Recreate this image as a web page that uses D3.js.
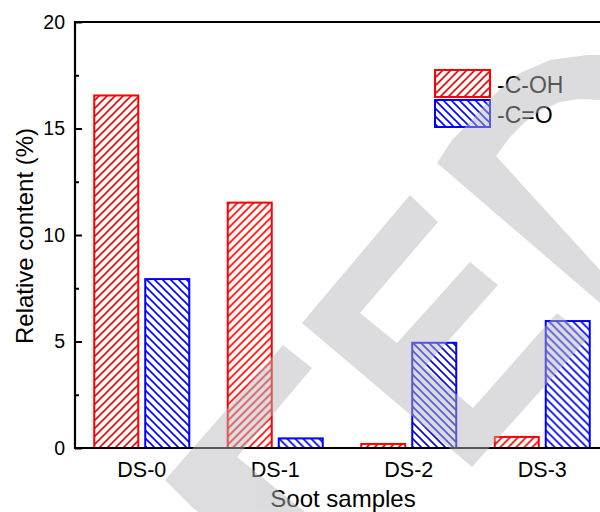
<!DOCTYPE html>
<html>
<head>
<meta charset="utf-8">
<script src="https://cdn.jsdelivr.net/npm/d3@7"></script>
<style>
  html, body { margin: 0; padding: 0; background: #ffffff; }
  svg { display: block; font-family: "Liberation Sans", Arial, sans-serif; }
</style>
</head>
<body>
<svg id="chart" width="600" height="512"></svg>
<script>
// ---- data ----
const categories = ["DS-0", "DS-1", "DS-2", "DS-3"];
const seriesNames = ["-C-OH", "-C=O"];
const cohValues = [16.55, 11.52, 0.19, 0.52];
const coValues = [7.93, 0.45, 4.94, 5.96];
const yTicks = [0, 5, 10, 15, 20];
const yMinorTicks = [2.5, 7.5, 12.5, 17.5];
const seriesColors = ["#ff0000", "#0000ff"];

(function () {
// ---- layout ----
const svg = d3.select("#chart");
const pLeft = 75, pTop = 22, pBottom = 448, pRight = 609;

const x = d3.scaleBand().domain(categories).range([pLeft, pRight]).padding(0);
const inner = d3.scaleBand().domain([0, 1])
  .range([x.bandwidth() / 2 - 47.5, x.bandwidth() / 2 + 47.5])
  .paddingInner(0.137).paddingOuter(0);
const y = d3.scaleLinear().domain([0, 20]).range([pBottom, pTop]);

// hatch patterns
const defs = svg.append("defs");
function hatch(id, color, forward) {
  const p = defs.append("pattern").attr("id", id)
    .attr("patternUnits", "userSpaceOnUse").attr("width", 8).attr("height", 8);
  p.append("rect").attr("width", 8).attr("height", 8).attr("fill", "#ffffff");
  const d = forward
    ? "M-2,2 L2,-2 M0,8 L8,0 M6,10 L10,6"
    : "M-2,6 L2,10 M0,0 L8,8 M6,-2 L10,2";
  p.append("path").attr("d", d).attr("stroke", color).attr("stroke-width", 1.6)
    .attr("fill", "none");
}
hatch("hatchRed", seriesColors[0], true);
hatch("hatchBlue", seriesColors[1], false);
const fills = ["url(#hatchRed)", "url(#hatchBlue)"];

// bars
const rows = categories.map((c, i) => ({ cat: c, vals: [cohValues[i], coValues[i]] }));
const groups = svg.append("g").selectAll("g").data(rows).join("g")
  .attr("transform", d => `translate(${x(d.cat)},0)`);
groups.selectAll("rect").data(d => d.vals.map((v, k) => ({ v, k }))).join("rect")
  .attr("x", d => inner(d.k))
  .attr("width", inner.bandwidth())
  .attr("y", d => y(d.v))
  .attr("height", d => y(0) - y(d.v))
  .attr("fill", d => fills[d.k])
  .attr("stroke", d => seriesColors[d.k])
  .attr("stroke-width", 2);

// axes
const yAxis = svg.append("g").attr("transform", `translate(${pLeft},0)`)
  .call(d3.axisLeft(y).tickValues(yTicks).tickSize(-7).tickPadding(10));
yAxis.select(".domain").remove();
yAxis.selectAll("line").attr("stroke", "#000").attr("stroke-width", 2);
yAxis.selectAll("text").attr("font-size", 19.5).attr("fill", "#000")
  .attr("font-family", "Liberation Sans, Arial, sans-serif");

const yMinor = svg.append("g").attr("transform", `translate(${pLeft},0)`)
  .call(d3.axisLeft(y).tickValues(yMinorTicks).tickSize(-4).tickFormat(""));
yMinor.select(".domain").remove();
yMinor.selectAll("line").attr("stroke", "#000").attr("stroke-width", 2);

const xAxis = svg.append("g").attr("transform", `translate(0,${pBottom})`)
  .call(d3.axisBottom(x).tickSize(0).tickPadding(14));
xAxis.select(".domain").remove();
xAxis.selectAll("text").attr("font-size", 21.5).attr("fill", "#000")
  .attr("font-family", "Liberation Sans, Arial, sans-serif");

// frame lines
svg.append("line").attr("x1", pLeft).attr("x2", 600).attr("y1", pBottom).attr("y2", pBottom)
  .attr("stroke", "#000").attr("stroke-width", 2.2);
svg.append("line").attr("x1", pLeft).attr("x2", 600).attr("y1", pTop).attr("y2", pTop)
  .attr("stroke", "#000").attr("stroke-width", 2.2);
svg.append("line").attr("x1", pLeft).attr("x2", pLeft).attr("y1", pTop - 1.1).attr("y2", pBottom + 1.1)
  .attr("stroke", "#000").attr("stroke-width", 2.2);

// axis titles
svg.append("text").attr("x", 343).attr("y", 507).attr("text-anchor", "middle")
  .attr("font-size", 24).attr("fill", "#000").text("Soot samples");
svg.append("text").attr("transform", "translate(33,236) rotate(-90)")
  .attr("text-anchor", "middle").attr("font-size", 24).attr("fill", "#000")
  .text("Relative content (%)");

// legend
const legend = svg.append("g").attr("transform", "translate(435,70)");
seriesNames.forEach((name, k) => {
  const g = legend.append("g").attr("transform", `translate(0,${k * 30})`);
  g.append("rect").attr("width", 55).attr("height", 27)
    .attr("fill", fills[k]).attr("stroke", seriesColors[k]).attr("stroke-width", 2);
  g.append("text").attr("x", 62).attr("y", 23).attr("font-size", 23)
    .attr("fill", "#000").text(name);
});

// watermark overlay (decorative)
const wm = svg.append("g").attr("opacity", 0.47).attr("fill", "rgb(182,183,186)");
const wmShapes = [
  [[283,345],[312,368],[237,457],[305,512],[198,512],[193,508],[165,480]],
  [[410,195],[438,222],[360,313],[397,343],[470,262],[498,285],[425,367],[473,408],
   [557,313],[588,338],[472,467],[302,323]],
  [[437,163],[452,140],[468,124],[485,105],[500,89],[520,73],[550,60],[587,55],[600,55],
   [600,100],[580,99],[560,102],[540,111],[525,122],[510,137],[496,156],[600,270],[600,303]]
];
wmShapes.forEach(pts => {
  wm.append("path").attr("d", d3.line()(pts) + "Z");
});
})();
</script>
</body>
</html>
